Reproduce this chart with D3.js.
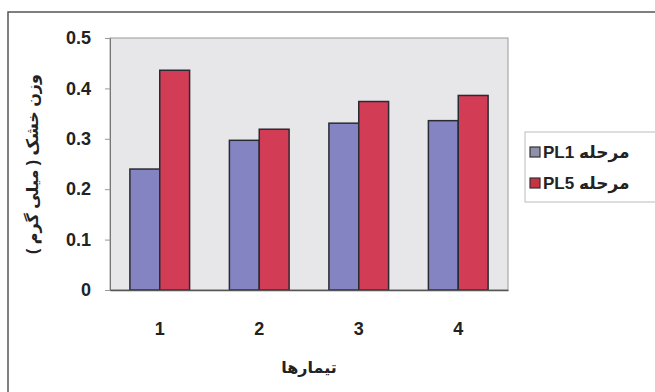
<!DOCTYPE html>
<html>
<head>
<meta charset="utf-8">
<script src="https://cdn.jsdelivr.net/npm/d3@7"></script>
<style>
  body { margin: 0; background: #fff; }
  text { font-family: Arial, "Liberation Sans", "DejaVu Sans", sans-serif; font-weight: bold; fill: #222; }
</style>
</head>
<body>
<div id="chart"></div>
<script>
const treatments = ["1", "2", "3", "4"];
const seriesNames = ["PL1 مرحله", "PL5 مرحله"];
const pl1Values = [0.24, 0.297, 0.331, 0.336];
const pl5Values = [0.436, 0.319, 0.374, 0.386];
const yTicks = [0, 0.1, 0.2, 0.3, 0.4, 0.5];
const xTitle = "تیمارها";
const yTitle = "وزن خشک ( میلی گرم )";

const width = 655;
const height = 392;
const margin = { top: 38, right: 147, bottom: 102, left: 110 };

const svg = d3.select("#chart")
  .append("svg")
  .attr("width", width)
  .attr("height", height);

// outer chart frame (cut off at right and bottom)
svg.append("rect")
  .attr("x", 8).attr("y", 12)
  .attr("width", 700).attr("height", 450)
  .attr("fill", "#fff")
  .attr("stroke", "#555")
  .attr("stroke-width", 1.5);

const x0 = d3.scaleBand()
  .domain(treatments)
  .range([margin.left, width - margin.right])
  .paddingInner(0.4)
  .paddingOuter(0.2);

const x1 = d3.scaleBand()
  .domain([0, 1])
  .range([0, x0.bandwidth()]);

const y = d3.scaleLinear()
  .domain([0, 0.5])
  .range([height - margin.bottom, margin.top]);

// plot area
svg.append("rect")
  .attr("x", margin.left)
  .attr("y", margin.top)
  .attr("width", width - margin.right - margin.left)
  .attr("height", height - margin.bottom - margin.top)
  .attr("fill", "#e7e7ea")
  .attr("stroke", "#9a9a9a")
  .attr("stroke-width", 1);

const colors = ["#8484c2", "#d23c55"];
const legendColors = ["#8f90aa", "#c63444"];

const rows = treatments.map((t, i) => ({ t, values: [pl1Values[i], pl5Values[i]] }));

svg.append("g")
  .selectAll("g")
  .data(rows)
  .join("g")
  .attr("transform", d => `translate(${x0(d.t)},0)`)
  .selectAll("rect")
  .data(d => d.values.map((v, k) => ({ v, k })))
  .join("rect")
  .attr("x", d => x1(d.k))
  .attr("y", d => y(d.v))
  .attr("width", x1.bandwidth())
  .attr("height", d => y(0) - y(d.v))
  .attr("fill", d => colors[d.k])
  .attr("stroke", "#2a2a33")
  .attr("stroke-width", 1.5);

// y axis
const yAxis = svg.append("g")
  .attr("transform", `translate(${margin.left},0)`)
  .call(d3.axisLeft(y).tickValues(yTicks).tickFormat(d3.format("")).tickSize(5).tickPadding(14));
yAxis.select(".domain").attr("stroke", "#777");
yAxis.selectAll(".tick line").attr("stroke", "#999");
yAxis.selectAll(".tick text").style("font-size", "18px").attr("fill", "#222");

// x axis
const xAxis = svg.append("g")
  .attr("transform", `translate(0,${y(0)})`)
  .call(d3.axisBottom(x0).tickSize(0).tickPadding(32));
xAxis.select(".domain").attr("stroke", "#555").attr("stroke-width", 1.5);
xAxis.selectAll(".tick text").style("font-size", "18px").attr("fill", "#222");

// axis titles
svg.append("text")
  .attr("x", (margin.left + width - margin.right) / 2)
  .attr("y", 373)
  .attr("text-anchor", "middle")
  .style("font-size", "16px")
  .text(xTitle);

svg.append("text")
  .attr("transform", `translate(38,${(margin.top + height - margin.bottom) / 2}) rotate(-90)`)
  .attr("text-anchor", "middle")
  .style("font-size", "16px")
  .attr("direction", "rtl")
  .text(yTitle);

// legend
const legend = svg.append("g");
legend.append("rect")
  .attr("x", 525).attr("y", 132)
  .attr("width", 200).attr("height", 70)
  .attr("fill", "#fff")
  .attr("stroke", "#bbb");

seriesNames.forEach((name, i) => {
  const ly = 147 + i * 31;
  legend.append("rect")
    .attr("x", 530).attr("y", ly)
    .attr("width", 10).attr("height", 10)
    .attr("fill", legendColors[i])
    .attr("stroke", "#333")
    .attr("stroke-width", 1.2);
  legend.append("text")
    .attr("x", 543).attr("y", ly + 11)
    .style("font-size", "17px")
    .text(name);
});
</script>
</body>
</html>
